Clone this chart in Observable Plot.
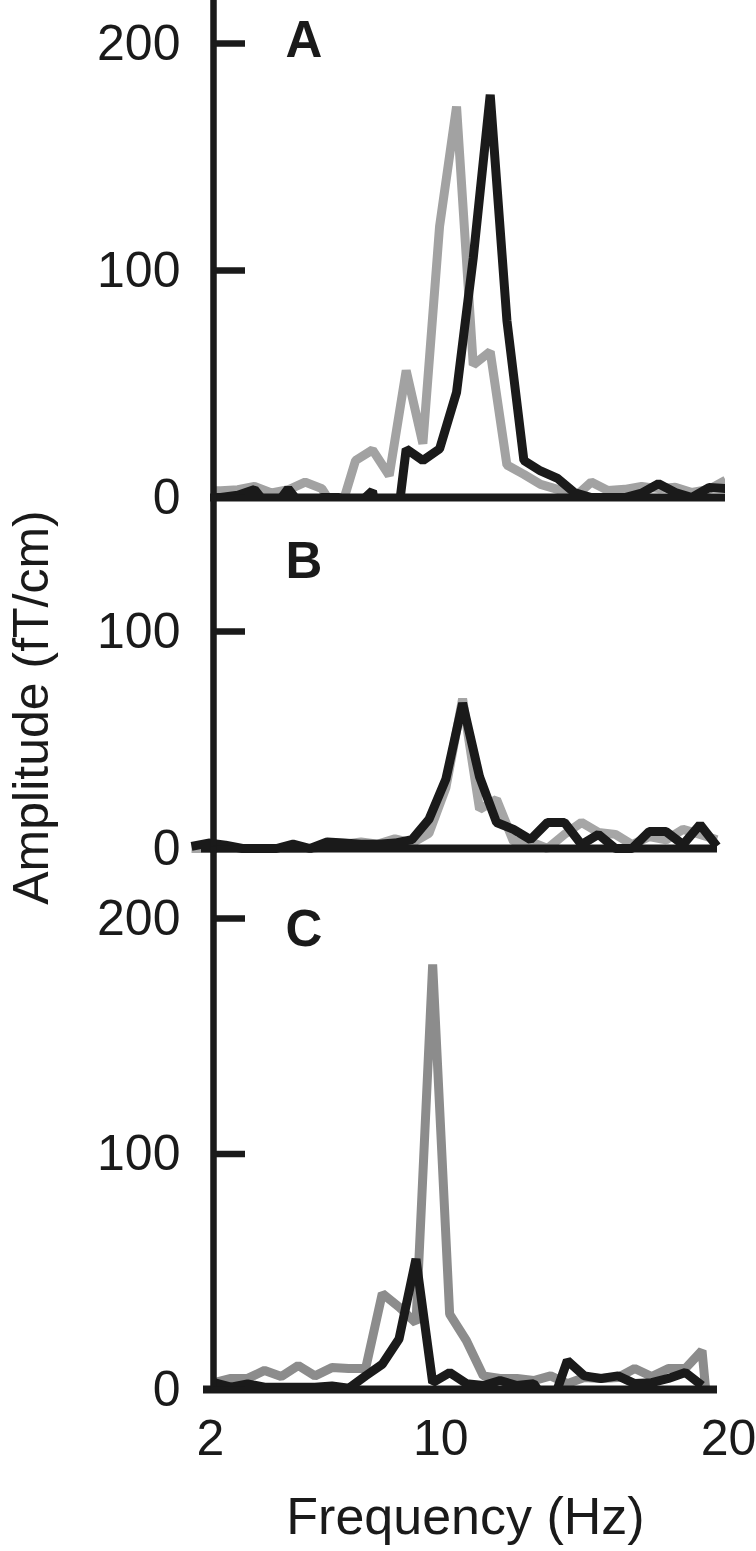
<!DOCTYPE html>
<html><head><meta charset="utf-8">
<script src="https://cdn.jsdelivr.net/npm/d3@7"></script>
<script src="https://cdn.jsdelivr.net/npm/@observablehq/plot@0.6"></script>
<style>
html,body{margin:0;padding:0;background:#fff;}
#chart{position:relative;width:756px;height:1551px;overflow:hidden;background:#fff;}
#chart svg{position:absolute;left:0;}
</style></head><body><div id="chart"></div>
<script>
// ---- data ----
const panelLabels = ["A", "B", "C"];
const xTicks = [2, 10, 20];
const yTicksA = [0, 100, 200];
const yTicksB = [0, 100];
const yTicksC = [0, 100, 200];
const xTitle = "Frequency (Hz)";
const yTitle = "Amplitude (fT/cm)";

const freqA = [1.78, 2.36, 2.95, 3.53, 4.12, 4.70, 5.29, 5.87, 6.46, 7.04, 7.63, 8.21, 8.80, 9.38, 9.96, 10.55, 11.13, 11.72, 12.30, 12.89, 13.47, 14.06, 14.64, 15.23, 15.81, 16.40, 16.98, 17.57, 18.15, 18.73, 19.32, 19.90];
const grayA = [3, 3, 3.4, 4.9, 2, 3.4, 6.8, 3.9, -8, 16.3, 21, 9.7, 56, 23.7, 119.4, 172.2, 58.4, 64.3, 14.3, 10.2, 5.8, 3.6, 0, 6.8, 3.1, 3.6, 4.9, 3.9, 4.5, 2.2, 3.6, 7.6];
const blackA = [0, 0, 1, 3.5, -6, 3.9, -6, 0, 0, -4, 2.9, -40, 21.4, 16.3, 21.4, 46.3, 105.5, 177.4, 78, 16.3, 11.7, 8.4, 2.2, 0, 0, 0, 1.9, 6.1, 2.2, 0, 4.4, 3.9];

const freqB = [1.34, 1.93, 2.52, 3.11, 3.70, 4.29, 4.87, 5.46, 6.05, 6.64, 7.23, 7.82, 8.41, 9.00, 9.59, 10.18, 10.76, 11.35, 11.94, 12.53, 13.12, 13.71, 14.30, 14.89, 15.48, 16.07, 16.65, 17.24, 17.83, 18.42, 19.01, 19.60];
const grayB = [0, 0, 0, 0, 0, 0, 0, 0, 1, 2, 3, 2, 4.5, 2.5, 7, 28, 69, 18, 22.6, 3.2, 3.2, 0, 6.5, 12, 7.4, 6.5, 1.8, 5.5, 4, 8.8, 6.5, 4];
const blackB = [1, 2.5, 1.5, 0, 0, 0, 2, 0, 3, 2.5, 2, 2, 2.5, 4.1, 13.4, 32, 67, 33, 12, 8.8, 4.1, 12, 12, 1.8, 6.5, 0, 0, 7.8, 7.8, 1.8, 11, 1];

const freqC = [2.12, 2.71, 3.29, 3.88, 4.46, 5.05, 5.63, 6.22, 6.80, 7.39, 7.97, 8.55, 9.14, 9.72, 10.31, 10.89, 11.48, 12.06, 12.65, 13.23, 13.82, 14.40, 14.99, 15.57, 16.16, 16.74, 17.33, 17.91, 18.50, 19.08, 19.67];
const grayC = [2.9, 4.7, 4.7, 8.1, 5.5, 10.2, 5.8, 9.3, 8.9, 8.9, 40.8, 35, 28.2, 180.5, 32, 20.8, 5.8, 4.7, 4.7, 3.8, 5.8, 2.5, 5.1, 4.7, 5.1, 8.9, 5.5, 8.9, 8.9, 16.5, -60];
const blackC = [2.9, 1, 2.4, 1, 1, 1, 1, 1.5, 0.5, 5.8, 10.7, 21.4, 55.4, 2.9, 7.2, 2.5, 1.7, 3.8, 1.7, 2.5, -8, 12.3, 5.8, 4.7, 5.8, 2.5, 2.9, 4.7, 7.2, 1.7];

// ---- styling ----
const INK = "#1a1a1a";
const LINE_W = 9;
const series = (freq, vals) => vals.map((v, i) => ({f: freq[i], v}));

function panel(o) {
  const lineOpts = {x: "f", y: "v", strokeWidth: LINE_W, strokeLinejoin: "miter", strokeLinecap: "butt", clip: o.clip};
  const svg = Plot.plot({
    width: 756, height: o.height,
    marginTop: 0, marginBottom: o.marginBottom, marginLeft: 213, marginRight: o.marginRight,
    style: "font-family: 'Liberation Sans', Arial, Helvetica, sans-serif; overflow: visible; background: transparent; color: #1a1a1a;",
    x: {domain: [2, 20], range: [210, 728], axis: null},
    y: {domain: o.yDomain, range: o.yRange, axis: null},
    marks: [
      Plot.line(series(o.freq, o.gray), {...lineOpts, stroke: o.grayColor}),
      Plot.line(series(o.freq, o.black), {...lineOpts, stroke: INK}),
      Plot.ruleY([0], {stroke: INK, strokeWidth: 8, insetLeft: o.insetLeft}),
      Plot.frame({anchor: "left", stroke: INK, strokeWidth: 6.5}),
      Plot.axisY({ticks: o.ticks, tickSize: -32, tickPadding: 65, fontSize: 50, strokeWidth: 6.5, color: INK, label: null}),
      Plot.text([o.label], {text: d => d, frameAnchor: "top-left", dx: 72, dy: o.labelDy, lineAnchor: "bottom", textAnchor: "start", fontSize: 51, fontWeight: "bold", fill: INK}),
      ...(o.extra || [])
    ]
  });
  svg.style.top = o.top + "px";
  document.getElementById("chart").append(svg);
}

panel({label: panelLabels[0], freq: freqA, gray: grayA, black: blackA, grayColor: "#a2a2a2",
  ticks: yTicksA, yDomain: [0, 200], yRange: [497, 43], top: 0, height: 497, marginBottom: 0, marginRight: 31,
  insetLeft: -3, clip: true, labelDy: 56});

panel({label: panelLabels[1], freq: freqB, gray: grayB, black: blackB, grayColor: "#a6a6a6",
  ticks: yTicksB, yDomain: [0, 100], yRange: [351, 134], top: 497, height: 352, marginBottom: 0, marginRight: 39,
  insetLeft: -12, clip: false, labelDy: 80,
  extra: [
    Plot.text([yTitle], {text: d => d, frameAnchor: "left", dx: -166, dy: 34, rotate: -90, lineAnchor: "bottom", textAnchor: "middle", fontSize: 50, fill: INK})
  ]});

panel({label: panelLabels[2], freq: freqC, gray: grayC, black: blackC, grayColor: "#8c8c8c",
  ticks: yTicksC, yDomain: [0, 200], yRange: [540, 69], top: 849, height: 702, marginBottom: 162, marginRight: 39,
  insetLeft: -10, clip: true, labelDy: 96,
  extra: [
    Plot.axisX({ticks: xTicks, tickSize: 0, tickPadding: 30, fontSize: 50, color: INK, label: null}),
    Plot.text([xTitle], {text: d => d, frameAnchor: "bottom", dy: 144, lineAnchor: "bottom", textAnchor: "middle", fontSize: 52, fill: INK})
  ]});
</script>
</body></html>
